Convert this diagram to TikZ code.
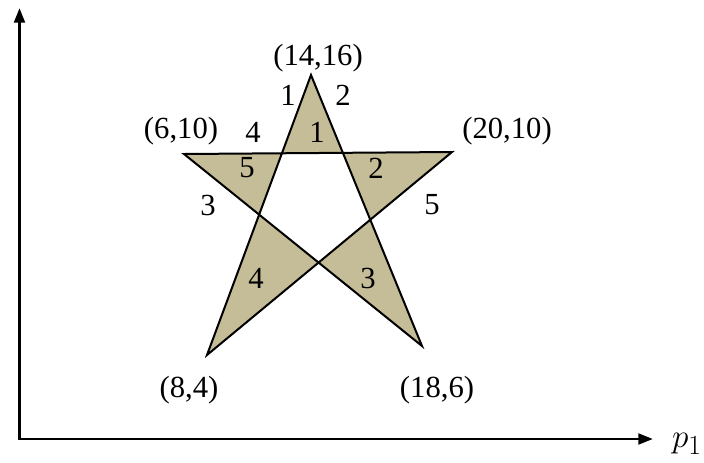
\documentclass[tikz,border=0pt]{standalone}
\usepackage{fontspec}
\setmainfont{Liberation Serif}
\usetikzlibrary{arrows.meta}
\definecolor{startan}{RGB}{196,189,151}
\begin{document}
\begin{tikzpicture}[x=0.75pt,y=-0.75pt,
  lbl/.style={font=\fontsize{23}{27}\selectfont, inner sep=0pt},
  axis/.style={line width=2.2pt, line join=miter, {Triangle[width=8pt,length=11pt]}-{Triangle[width=8pt,length=11pt]}},
  staredge/.style={line width=1.5pt, line join=miter, fill=startan, even odd rule}]
\useasboundingbox (0,0) rectangle (704,462);
% axes
\coordinate (o) at (19.5,439);
\coordinate (ytip) at (19.5,8);
\coordinate (xtip) at (653,439);
\draw[axis] (ytip) -- (o) -- (xtip);
% star vertices
\coordinate (A) at (311,75);
\coordinate (B) at (184,154);
\coordinate (C) at (452,152);
\coordinate (D) at (207,355);
\coordinate (E) at (422,346);
\filldraw[staredge] (A) -- (D) -- (C) -- (B) -- (E) -- cycle;
% vertex labels
\node[lbl] (lA) at (318,58) {(14,16)};
\node[lbl] (lB) at (181,131) {(6,10)};
\node[lbl] (lC) at (507,131) {(20,10)};
\node[lbl] (lD) at (189,390) {(8,4)};
\node[lbl] (lE) at (437,390) {(18,6)};
% edge labels
\node[lbl] (e1) at (288,95) {1};
\node[lbl] (e2) at (343,95) {2};
\node[lbl] (e4) at (253,132) {4};
\node[lbl] (e3) at (208,205) {3};
\node[lbl] (e5) at (432,205) {5};
% region labels
\node[lbl] (r1) at (317,132) {1};
\node[lbl] (r5) at (247,168) {5};
\node[lbl] (r2) at (376,168) {2};
\node[lbl] (r4) at (256,278) {4};
\node[lbl] (r3) at (368,278) {3};
% axis label
\node[inner sep=0pt, font=\fontsize{28}{32}\selectfont] (px) at (687,444) {$p_{\scriptstyle 1}$};
\end{tikzpicture}
\end{document}
